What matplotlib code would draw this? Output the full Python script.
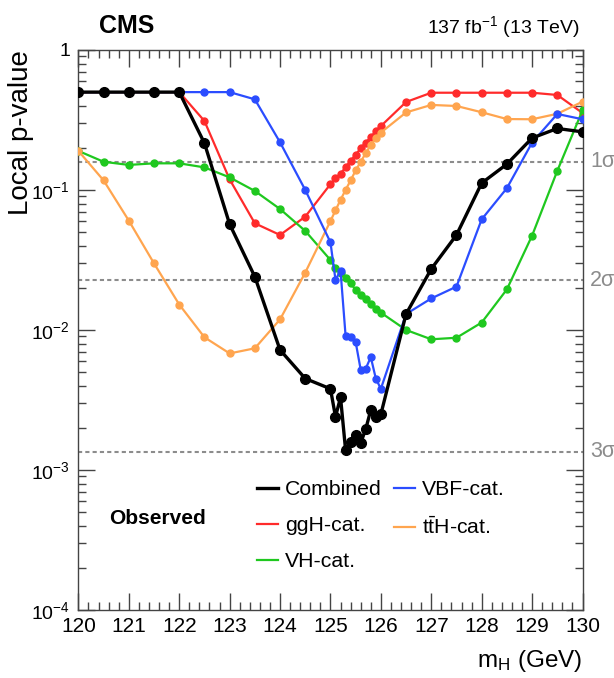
import matplotlib
matplotlib.use("Agg")
import matplotlib.pyplot as plt
from matplotlib.lines import Line2D
from matplotlib.ticker import FixedLocator, LogLocator, MultipleLocator, NullFormatter

plt.rcParams['font.family'] = ['Liberation Sans', 'DejaVu Sans']
plt.rcParams['mathtext.fontset'] = 'custom'
plt.rcParams['mathtext.rm'] = 'Liberation Sans'
plt.rcParams['mathtext.it'] = 'Liberation Sans:italic'
plt.rcParams['mathtext.bf'] = 'Liberation Sans:bold'

# Masas del scan (GeV)
mass = [120.0, 120.5, 121.0, 121.5, 122.0, 122.5, 123.0, 123.5, 124.0, 124.5,
        125.0, 125.1, 125.2, 125.3, 125.4, 125.5, 125.6, 125.7, 125.8, 125.9,
        126.0, 126.5, 127.0, 127.5, 128.0, 128.5, 129.0, 129.5, 130.0]

# p-valores locales observados
p_combined = [0.5, 0.5, 0.5, 0.5, 0.5, 0.216, 0.057, 0.024, 0.0072, 0.0045,
              0.0038, 0.0024, 0.0033, 0.00139, 0.00158, 0.00178, 0.00156, 0.00196, 0.00268, 0.0024,
              0.0025, 0.013, 0.0273, 0.0477, 0.112, 0.153, 0.235, 0.275, 0.26]
p_ggh = [0.5, 0.5, 0.5, 0.5, 0.5, 0.311, 0.119, 0.0578, 0.0477, 0.0645,
         0.11, 0.121, 0.131, 0.145, 0.162, 0.178, 0.199, 0.218, 0.238, 0.264,
         0.286, 0.425, 0.495, 0.495, 0.495, 0.495, 0.495, 0.477, 0.355]
p_vh = [0.19, 0.159, 0.151, 0.155, 0.155, 0.145, 0.123, 0.0984, 0.0731, 0.051,
        0.0316, 0.0276, 0.0254, 0.0234, 0.0216, 0.0193, 0.0178, 0.0166, 0.0153, 0.0141,
        0.0133, 0.01, 0.00858, 0.0088, 0.0113, 0.0195, 0.0472, 0.137, 0.37]
p_vbf = [0.5, 0.5, 0.5, 0.5, 0.5, 0.5, 0.5, 0.444, 0.219, 0.1,
         0.0423, 0.0228, 0.0265, 0.0091, 0.0089, 0.0082, 0.0052, 0.0053, 0.0064, 0.0045,
         0.0038, 0.013, 0.0168, 0.0204, 0.0617, 0.103, 0.218, 0.349, 0.32]
p_tth = [0.19, 0.117, 0.0604, 0.0299, 0.0152, 0.00887, 0.0068, 0.0074, 0.0119, 0.0257,
         0.06, 0.0715, 0.085, 0.1, 0.117, 0.138, 0.159, 0.183, 0.21, 0.234,
         0.257, 0.358, 0.405, 0.398, 0.359, 0.321, 0.32, 0.35, 0.427]

sigma_pvalues = [0.158655, 0.0227501, 0.0013499]
sigma_labels = ['1σ', '2σ', '3σ']

series = [
    ('ggH-cat.', p_ggh, '#ff2b2b'),
    ('VH-cat.', p_vh, '#1fc81f'),
    ('t$\\bar{\\mathrm{t}}$H-cat.', p_tth, '#ffa54f'),
    ('VBF-cat.', p_vbf, '#2b4dff'),
]

fig = plt.figure(figsize=(6.14, 6.78), dpi=100)
ax = fig.add_axes([0.1277, 0.1003, 0.8210, 0.8260])

for p in sigma_pvalues:
    ax.axhline(p, color='#8c8c8c', lw=1.5, ls=(0, (2, 1.5)), zorder=1)

colores = {}
for nombre, vals, col in series:
    ax.plot(mass, vals, color=col, lw=1.6, marker='o', ms=5, zorder=3)
    colores[nombre] = col
ax.plot(mass, p_combined, color='black', lw=2.4, marker='o', ms=7, zorder=4)

ax.set_yscale('log')
ax.set_xlim(120, 130)
ax.set_ylim(1e-4, 1)

ax.xaxis.set_major_locator(MultipleLocator(1))
ax.xaxis.set_minor_locator(MultipleLocator(0.2))
ax.yaxis.set_major_locator(FixedLocator([1e-4, 1e-3, 1e-2, 1e-1, 1]))
ax.set_yticklabels(['$\\mathdefault{10^{-4}}$', '$\\mathdefault{10^{-3}}$',
                    '$\\mathdefault{10^{-2}}$', '$\\mathdefault{10^{-1}}$', '1'])
ax.yaxis.set_minor_locator(LogLocator(base=10, subs=[2, 3, 4, 5, 6, 7, 8, 9]))
ax.yaxis.set_minor_formatter(NullFormatter())

for s in ax.spines.values():
    s.set_color('#444444')
    s.set_linewidth(1.0)
ax.tick_params(which='both', direction='in', top=True, right=True, color='#444444', width=1.0)
ax.tick_params(which='major', length=12)
ax.tick_params(which='minor', length=6)
ax.tick_params(axis='x', pad=5, labelsize=15)
ax.tick_params(axis='y', pad=6, labelsize=14)

ax.set_xlabel('m$_{\\mathregular{H}}$ (GeV)', loc='right', fontsize=17.5)
ax.xaxis.set_label_coords(1.0, -0.068)
ax.set_ylabel('Local p-value', loc='top', fontsize=20)
ax.yaxis.set_label_coords(-0.088, 1.0)

for p, lab in zip(sigma_pvalues, sigma_labels):
    ax.text(1.015, p, lab, transform=ax.get_yaxis_transform(), ha='left', va='center',
            color='#8c8c8c', fontsize=15.5)

fig.text(99 / 614, 1 - 26 / 678, 'CMS', fontsize=18, weight='bold', va='center', ha='left')
fig.text(580 / 614, 1 - 27 / 678, '137 fb$^{\\mathdefault{-1}}$ (13 TeV)', fontsize=14,
         va='center', ha='right')
fig.text(109 / 614, 1 - 519 / 678, 'Observed', fontsize=15, weight='bold', va='center', ha='left')

# Leyenda en dos columnas
handles = [Line2D([], [], color='black', lw=2.4),
           Line2D([], [], color=colores['ggH-cat.'], lw=1.6),
           Line2D([], [], color=colores['VH-cat.'], lw=1.6),
           Line2D([], [], color=colores['VBF-cat.'], lw=1.6),
           Line2D([], [], color=colores['t$\\bar{\\mathrm{t}}$H-cat.'], lw=1.6)]
labels = ['Combined', 'ggH-cat.', 'VH-cat.', 'VBF-cat.', 't$\\bar{\\mathrm{t}}$H-cat.']
fig.legend(handles, labels, ncol=2, loc='upper left', bbox_to_anchor=(257 / 614, 1 - 480 / 678),
           bbox_transform=fig.transFigure, frameon=False, fontsize=15.3, borderpad=0,
           borderaxespad=0, handlelength=1.0, handletextpad=0.3, columnspacing=0.6,
           labelspacing=0.8)

fig.savefig('out.png', dpi=100)
